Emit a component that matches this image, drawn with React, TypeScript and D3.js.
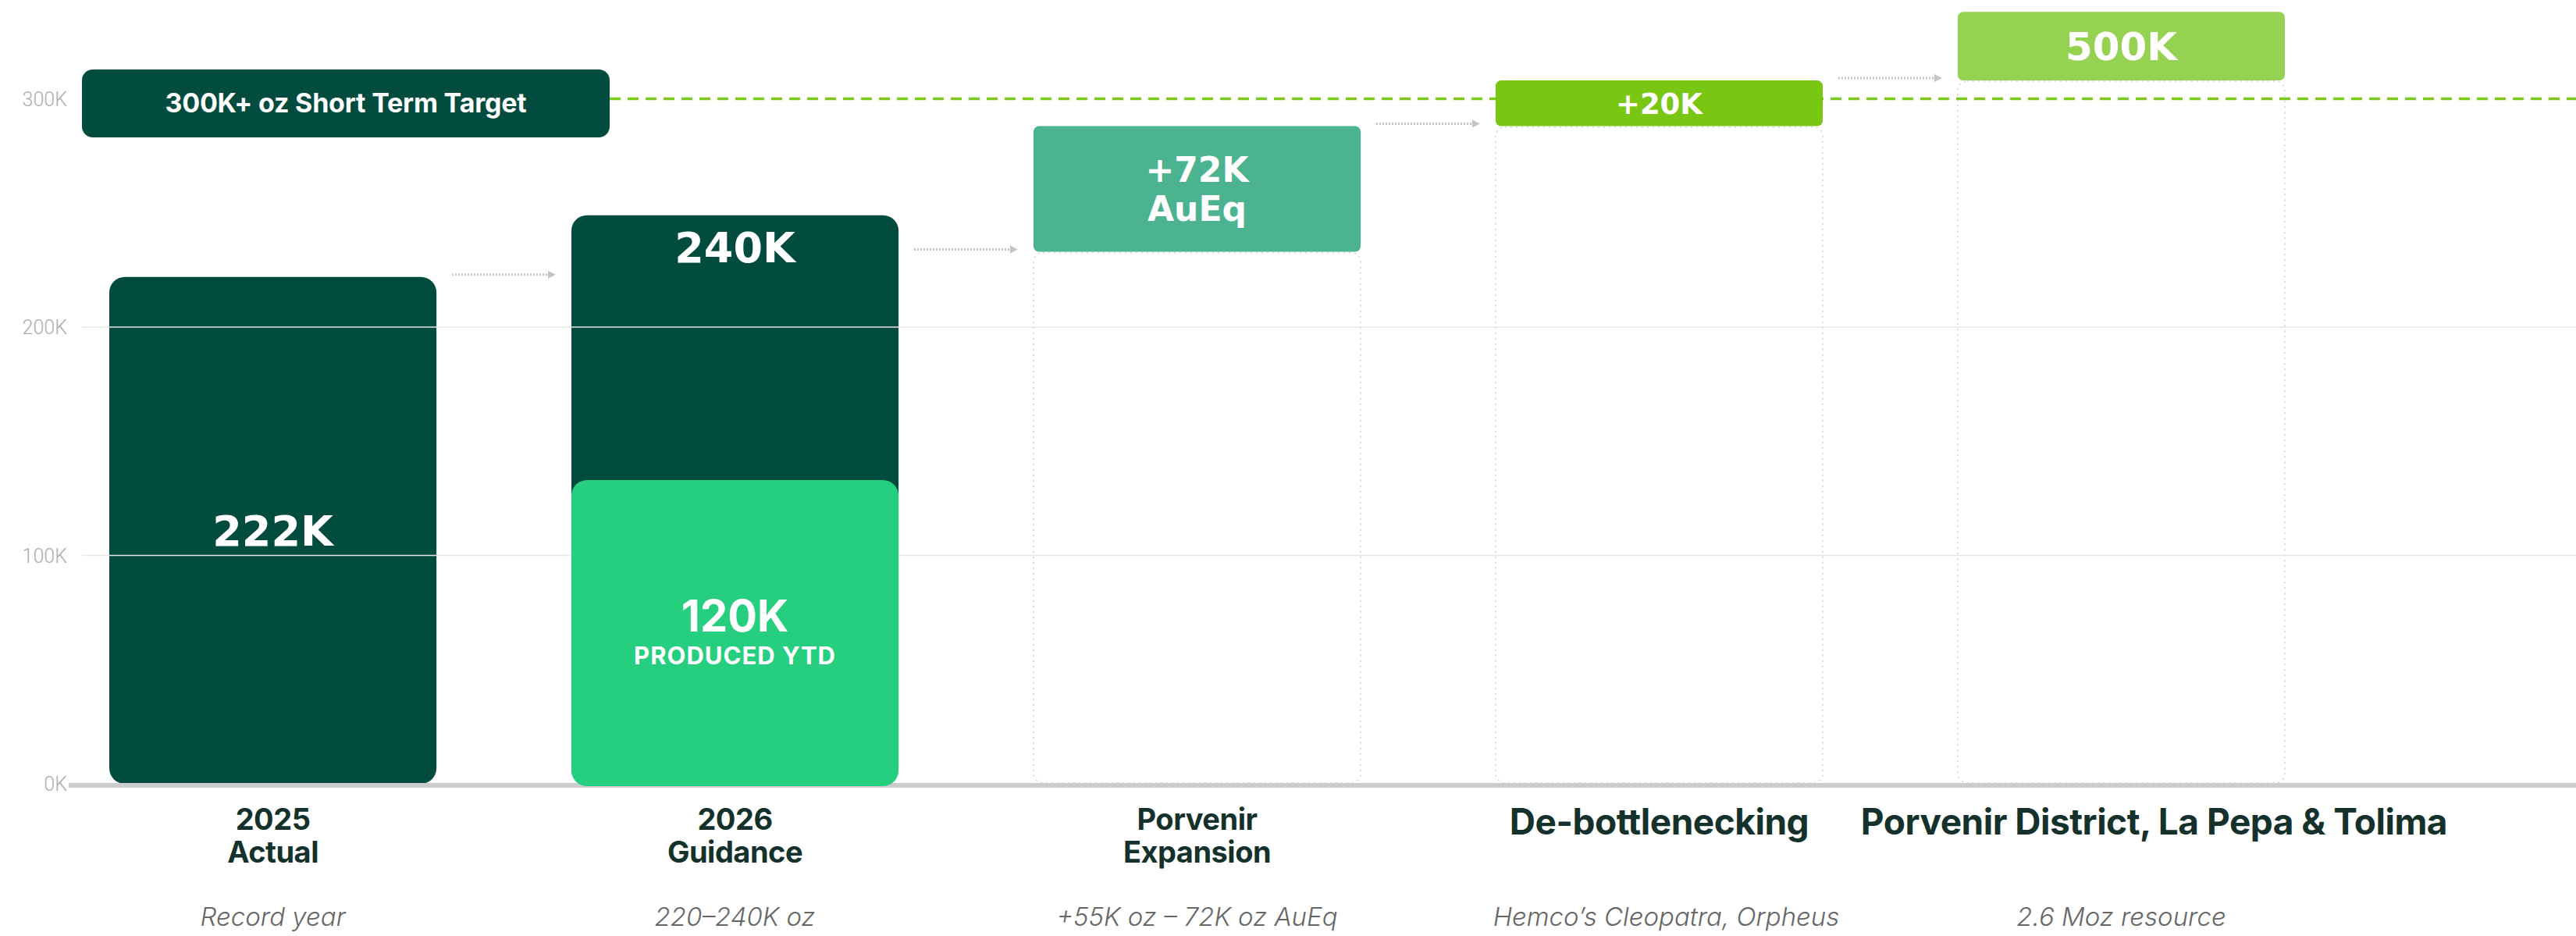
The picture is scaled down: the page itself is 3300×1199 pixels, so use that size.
import * as d3 from "d3";

// categories along the x axis
const categories = [
  "2025 Actual",
  "2026 Guidance",
  "Porvenir Expansion",
  "De-bottlenecking",
  "Porvenir District, La Pepa & Tolima",
];
const categoryLines = [
  ["2025", "Actual"],
  ["2026", "Guidance"],
  ["Porvenir", "Expansion"],
  ["De-bottlenecking"],
  ["Porvenir District, La Pepa & Tolima"],
];
const subtitles = [
  "Record year",
  "220–240K oz",
  "+55K oz – 72K oz AuEq",
  "Hemco’s Cleopatra, Orpheus",
  "2.6 Moz resource",
];

// waterfall values (oz)
const barBase = [0, 0, 233000, 288000, 308000];
const barTop = [222000, 249000, 288000, 308000, 338000];
const barLabels = [["222K"], ["240K"], ["+72K", "AuEq"], ["+20K"], ["500K"]];
const producedYtd = 133000;
const producedLabel = ["120K", "PRODUCED YTD"];
const arrowLevels = [222000, 233000, 288000, 308000];

const targetValue = 300000;
const targetLabel = "300K+ oz Short Term Target";

const yTicks = [0, 100000, 200000, 300000];
const yTickLabels = ["0K", "100K", "200K", "300K"];

const W = 3300;
const H = 1199;
const plotLeft = 105;

const barColors = ["#024b3f", "#024b3f", "#4bb390", "#79c712", "#95d251"];
const producedColor = "#25cf7f";
const targetColor = "#7bc81a";
const labelFont = "'DejaVu Sans', sans-serif";
const headFont = "Inter, 'Noto Sans', sans-serif";

export default function App() {
  const x = d3
    .scaleBand()
    .domain(categories)
    .range([140, 2927])
    .paddingInner(0.292)
    .paddingOuter(0);
  const y = d3.scaleLinear().domain([0, 300000]).range([1004, 126.5]);
  const bw = x.bandwidth();

  const floating = (i) => barBase[i] > 0;

  // rounded rect path with individual radii (top, bottom)
  const roundRect = (x0, y0, w, h, rt, rb) => {
    const p = d3.path();
    p.moveTo(x0 + rt, y0);
    p.lineTo(x0 + w - rt, y0);
    p.arcTo(x0 + w, y0, x0 + w, y0 + rt, rt);
    p.lineTo(x0 + w, y0 + h - rb);
    p.arcTo(x0 + w, y0 + h, x0 + w - rb, y0 + h, rb);
    p.lineTo(x0 + rb, y0 + h);
    p.arcTo(x0, y0 + h, x0, y0 + h - rb, rb);
    p.lineTo(x0, y0 + rt);
    p.arcTo(x0, y0, x0 + rt, y0, rt);
    p.closePath();
    return p.toString();
  };

  const targetY = y(targetValue);

  return (
    <div>
      <style>{`body{margin:0}`}</style>
      <svg width={W} height={H} style={{ display: "block", background: "#fff" }}>
        {/* y tick labels */}
        {yTicks.map((t, i) => (
          <text
            key={t}
            x={86}
            y={y(t)}
            dy="0.36em"
            textAnchor="end"
            fontFamily="Roboto, sans-serif"
            fontWeight={300}
            fontSize={25}
            fill="#adadad"
          >
            {yTickLabels[i]}
          </text>
        ))}

        {/* dotted outlines below floating boxes */}
        {categories.map((c, i) =>
          floating(i) ? (
            <path
              key={c}
              d={roundRect(x(c), y(barBase[i]) + 1, bw, y(0) - y(barBase[i]) - 2, 12, 12)}
              fill="none"
              stroke="#cfcfcf"
              strokeWidth={1.5}
              strokeDasharray="2 5"
            />
          ) : null
        )}

        {/* solid bars */}
        {categories.map((c, i) =>
          floating(i) ? null : (
            <path
              key={c}
              d={roundRect(x(c), y(barTop[i]), bw, y(0) - y(barTop[i]), 20, 20)}
              fill={barColors[i]}
            />
          )
        )}

        {/* grid lines */}
        {yTicks
          .filter((t) => t > 0 && t < targetValue)
          .map((t) => (
            <line key={t} x1={plotLeft} x2={W} y1={y(t)} y2={y(t)} stroke="#e6e6e6" strokeWidth={1.5} />
          ))}

        {/* axis */}
        <line x1={88} x2={W} y1={y(0) + 2} y2={y(0) + 2} stroke="#cccccc" strokeWidth={6} />

        {/* produced YTD bar */}
        <path
          d={roundRect(x(categories[1]), y(producedYtd), bw, y(0) - y(producedYtd) + 3, 20, 20)}
          fill={producedColor}
        />

        {/* target line */}
        <line
          x1={781}
          x2={W}
          y1={targetY}
          y2={targetY}
          stroke={targetColor}
          strokeWidth={3.5}
          strokeDasharray="14 9"
        />

        {/* floating boxes */}
        {categories.map((c, i) =>
          floating(i) ? (
            <rect
              key={c}
              x={x(c)}
              y={y(barTop[i])}
              width={bw}
              height={y(barBase[i]) - y(barTop[i])}
              rx={7}
              fill={barColors[i]}
            />
          ) : null
        )}

        {/* target box */}
        <rect x={plotLeft} y={targetY - 37.5} width={676} height={87} rx={14} fill="#024b3f" />
        <text
          x={plotLeft + 338}
          y={targetY + 17}
          textAnchor="middle"
          fontFamily={headFont}
          fontWeight={700}
          fontSize={34}
          letterSpacing={-0.2}
          fill="#fff"
        >
          {targetLabel}
        </text>

        {/* arrows */}
        {arrowLevels.map((v, i) => {
          const x0 = x(categories[i]) + bw + 20;
          const x1 = x(categories[i + 1]) - 20;
          const ay = y(v) - 3;
          return (
            <g key={i}>
              <line x1={x0} x2={x1 - 9} y1={ay} y2={ay} stroke="#c4c4c4" strokeWidth={3} strokeDasharray="2 2" />
              <path d={`M${x1 - 10},${ay - 5}L${x1},${ay}L${x1 - 10},${ay + 5}Z`} fill="#c4c4c4" />
            </g>
          );
        })}

        {/* bar value labels */}
        {categories.map((c, i) => {
          const cx = x(c) + bw / 2;
          const lines = barLabels[i];
          const fs = [54, 54, 44, 37, 50][i];
          const lh = 50;
          let baseY;
          if (i === 1) {
            baseY = y(barTop[i]) + 60;
          } else {
            const mid = (y(barTop[i]) + y(barBase[i])) / 2;
            const capH = fs * 0.73;
            baseY = mid + capH / 2 - ((lines.length - 1) * lh) / 2;
          }
          return (
            <text
              key={c}
              x={cx}
              y={baseY}
              textAnchor="middle"
              fontFamily={labelFont}
              fontWeight={700}
              fontSize={fs}
              fill="#fff"
            >
              {lines.map((l, k) => (
                <tspan key={k} x={cx} y={baseY + k * lh}>
                  {l}
                </tspan>
              ))}
            </text>
          );
        })}

        {/* produced YTD label */}
        {(() => {
          const cx = x(categories[1]) + bw / 2;
          const mid = (y(producedYtd) + y(0)) / 2;
          return (
            <g>
              <text
                x={cx}
                y={mid}
                textAnchor="middle"
                fontFamily={headFont}
                fontWeight={700}
                fontSize={56}
                fill="#fff"
              >
                {producedLabel[0]}
              </text>
              <text
                x={cx}
                y={mid + 42}
                textAnchor="middle"
                fontFamily={headFont}
                fontWeight={700}
                fontSize={31}
                letterSpacing={1}
                fill="#fff"
              >
                {producedLabel[1]}
              </text>
            </g>
          );
        })()}

        {/* category labels */}
        {categories.map((c, i) => {
          const lines = categoryLines[i];
          const cx = x(c) + bw / 2 + (i === 4 ? 42 : 0);
          const single = lines.length === 1;
          return (
            <text
              key={c}
              x={cx}
              y={single ? 1068 : 1063}
              textAnchor="middle"
              fontFamily={headFont}
              fontWeight={700}
              fontSize={single ? 46 : 38}
              letterSpacing={-0.5}
              fill="#14312b"
            >
              {lines.map((l, k) => (
                <tspan key={k} x={cx} y={1063 + k * 42 + (single ? 6 : 0)}>
                  {l}
                </tspan>
              ))}
            </text>
          );
        })}

        {/* subtitles */}
        {categories.map((c, i) => (
          <text
            key={c}
            x={x(c) + bw / 2 + (i === 3 ? 9 : 0)}
            y={1186}
            textAnchor="middle"
            fontFamily={headFont}
            fontStyle="italic"
            fontWeight={300}
            fontSize={33}
            fill="#666"
          >
            {subtitles[i]}
          </text>
        ))}
      </svg>
    </div>
  );
}
